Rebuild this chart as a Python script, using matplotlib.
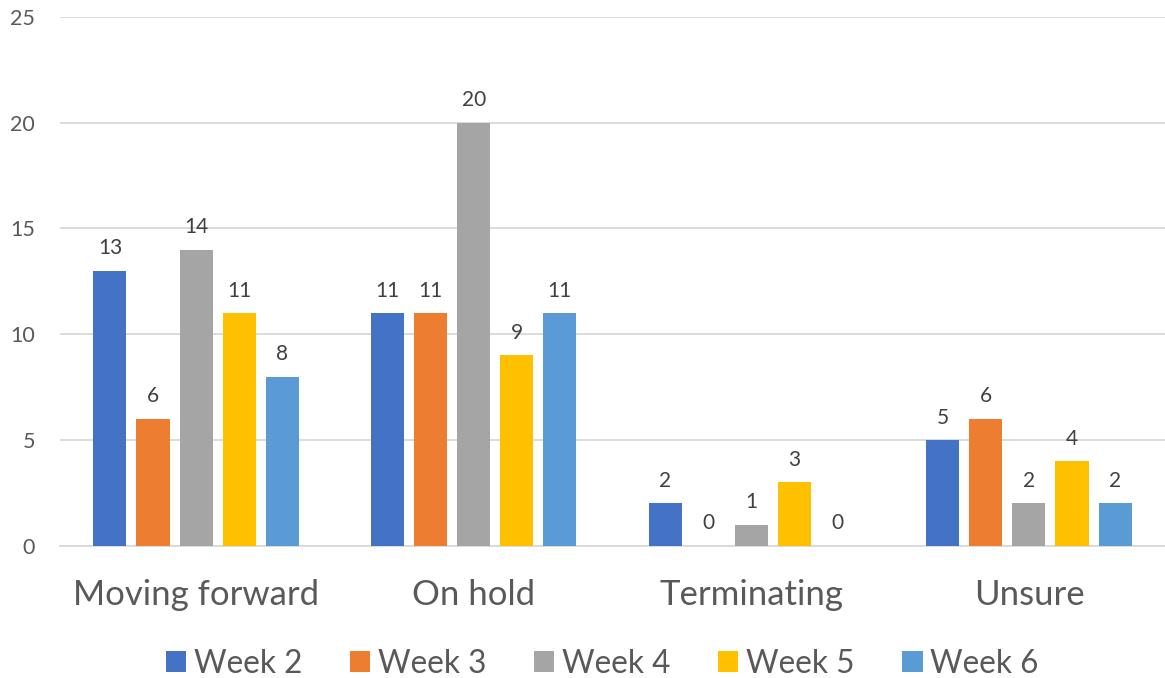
import numpy as np
import matplotlib.pyplot as plt

plt.rcParams['font.family'] = ['Lato', 'DejaVu Sans']

# chart data
categories = ['Moving forward', 'On hold', 'Terminating', 'Unsure']
weeks = ['Week 2', 'Week 3', 'Week 4', 'Week 5', 'Week 6']
week2 = [13, 11, 2, 5]
week3 = [6, 11, 0, 6]
week4 = [14, 20, 1, 2]
week5 = [11, 9, 3, 4]
week6 = [8, 11, 0, 2]
series = [week2, week3, week4, week5, week6]
colors = ['#4472C4', '#ED7D31', '#A5A5A5', '#FFC000', '#5B9BD5']

txt = '#595959'
fig = plt.figure(figsize=(11.65, 6.78), dpi=100)
ax = fig.add_axes([0.0515, 0.195, 0.9485, 0.78])

x = np.arange(len(categories))
pitch = 0.155
width = 0.119
for i, (vals, name, c) in enumerate(zip(series, weeks, colors)):
    pos = x + (i - 2) * pitch
    ax.bar(pos, vals, width, color=c, label=name, zorder=3)
    for p, v in zip(pos, vals):
        ax.annotate(str(v), (p, v), xytext=(0, 9), textcoords='offset points',
                    ha='center', va='bottom', fontsize=15, color='#404040')

ax.set_xlim(-0.49, 3.49)
ax.set_ylim(0, 25)
ax.set_yticks(range(0, 26, 5))
ax.yaxis.grid(True, color='#d9d9d9', lw=1.3, zorder=0)
for s in ['top', 'right', 'left']:
    ax.spines[s].set_visible(False)
ax.spines['bottom'].set_color('#d9d9d9')
ax.spines['bottom'].set_linewidth(1.3)
ax.tick_params(axis='both', length=0)
ax.tick_params(axis='y', labelsize=15.5, labelcolor=txt, pad=18)
ax.set_xticks(x)
ax.set_xticklabels(categories, fontsize=25, color=txt)
ax.tick_params(axis='x', pad=24)

fig.legend(loc='lower center', ncol=5, frameon=False, fontsize=22.7,
           labelcolor=txt, handlelength=0.65, handleheight=0.65,
           handletextpad=0.25, columnspacing=1.5, bbox_to_anchor=(0.517, -0.043))

fig.savefig('out.png', dpi=100)
